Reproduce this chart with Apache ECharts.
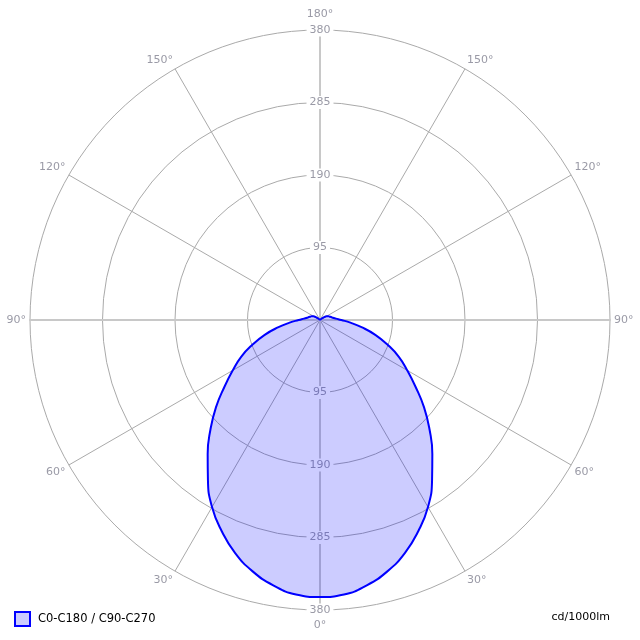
<!DOCTYPE html>
<html>
<head>
<meta charset="utf-8">
<script src="https://cdn.jsdelivr.net/npm/echarts@6/dist/echarts.min.js"></script>
<style>html,body{margin:0;padding:0;background:#fff}#c{width:640px;height:640px}</style>
</head>
<body>
<div id="c"></div>
<script>
// Gamma angles (degrees from nadir) and luminous intensity (cd/1000lm)
const gammaAngles = [0,5,10,15,20,25,30,35,40,45,50,55,60,65,70,75,80,85,90,95,100,105,110,115,120,125,130,135,140,145,150,155,160,165,170,175,180];
const intensityC0 = [363,361,353,341,325,305,283,256,229,203,178,153,132,114,94,75,56,40,28,21,17,15,13,12,10,6,3,1,0,0,0,0,0,0,0,0,0];
const intensityC180 = [363,361,353,341,325,305,283,256,229,203,178,153,132,114,94,75,56,40,28,21,17,15,13,12,10,6,3,1,0,0,0,0,0,0,0,0,0];
const radiusTicks = [0,95,190,285,380];
const angleTicks = [-180,-150,-120,-90,-60,-30,0,30,60,90,120,150,180];
const seriesName = 'C0-C180 / C90-C270';
const unitLabel = 'cd/1000lm';

const FONT = 'DejaVu Sans';
const rMax = radiusTicks[radiusTicks.length-1];
const rInt = radiusTicks[1]-radiusTicks[0];
const aInt = angleTicks[1]-angleTicks[0];

// left half (C180): +gamma, right half (C0): -gamma
const data = [];
for (let i = gammaAngles.length-1; i >= 0; i--) data.push([intensityC180[i], gammaAngles[i]]);
for (let i = 1; i < gammaAngles.length; i++) data.push([intensityC0[i], -gammaAngles[i]]);

function polarDef(){ return {center:['50%','50%'], radius:290}; }
function hiddenAngle(idx, start){
  return {polarIndex:idx, type:'value', min:angleTicks[0], max:angleTicks[angleTicks.length-1], interval:aInt,
    startAngle:start, clockwise:true, show:false};
}
function lineRadius(idx, labels){
  return {polarIndex:idx, type:'value', min:0, max:rMax, interval:rInt,
    axisLine:{show:true, lineStyle:{color:'#c8c8c8', width:2}},
    axisTick:{show:false},
    splitLine:{show:false},
    axisLabel:{show:labels, showMinLabel:false, margin:0, align:'center', verticalAlign:'middle',
      color:'#9a9aa6', fontFamily:FONT, fontSize:11, backgroundColor:'#ffffff', padding:[1,3,1,3]}
  };
}

const chart = echarts.init(document.getElementById('c'), null, {renderer:'canvas'});
const r0 = lineRadius(0, true);
r0.splitLine = {show:true, lineStyle:{color:'#aaaaaa', width:1}};
chart.setOption({
  animation:false,
  backgroundColor:'#ffffff',
  title:{text:unitLabel, right:30, top:612, padding:0,
    textStyle:{fontFamily:FONT, fontSize:11, fontWeight:'normal', color:'#000'}},
  legend:{left:14, top:611, padding:0, itemWidth:15, itemHeight:14, itemGap:10,
    textStyle:{fontFamily:FONT, fontSize:11.5, color:'#000', padding:[0,0,0,3]},
    data:[{name:seriesName, icon:'rect', itemStyle:{color:'rgba(0,0,255,0.2)', borderColor:'#0000ff', borderWidth:2}}]},
  polar:[polarDef(), polarDef(), polarDef(), polarDef()],
  angleAxis:[
    {polarIndex:0, type:'value', min:angleTicks[0], max:angleTicks[angleTicks.length-1], interval:aInt,
      startAngle:90, clockwise:true,
      axisLine:{show:false}, axisTick:{show:false},
      splitLine:{show:true, lineStyle:{color:'#aaaaaa', width:1}},
      axisLabel:{margin:4, color:'#9a9aa6', fontFamily:FONT, fontSize:11,
        formatter:function(v){ const a=Math.abs(v); return (a%180===0) ? '{p|'+a+'°}' : a+'°'; },
        rich:{p:{padding:[6,0,6,0], color:'#9a9aa6', fontFamily:FONT, fontSize:11}}}
    },
    hiddenAngle(1, 270), hiddenAngle(2, 0), hiddenAngle(3, 180)
  ],
  radiusAxis:[r0, lineRadius(1, true), lineRadius(2, false), lineRadius(3, false)],
  series:[{
    name:seriesName, type:'line', coordinateSystem:'polar', polarIndex:0,
    data:data, smooth:0.5, showSymbol:false, symbol:'none',
    lineStyle:{color:'#0000ff', width:2},
    itemStyle:{color:'#0000ff'},
    areaStyle:{color:'#0000ff', opacity:0.2},
    z:5
  }]
});
</script>
</body>
</html>
